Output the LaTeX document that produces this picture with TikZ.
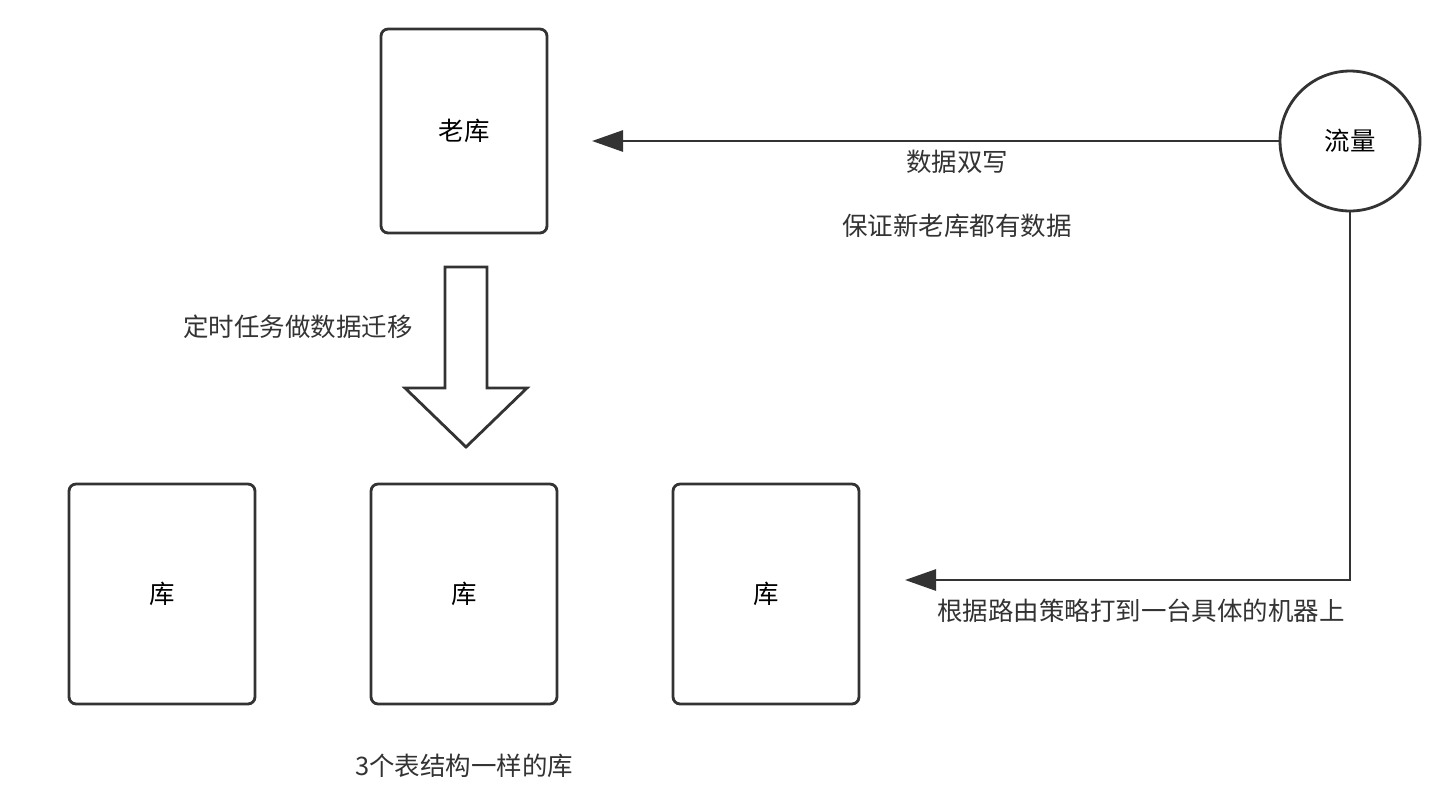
\documentclass[tikz,border=0pt]{standalone}
\usepackage{fontspec}
\newfontfamily\cjk{Noto Sans CJK SC}
\usetikzlibrary{arrows.meta}
\definecolor{ink}{HTML}{333333}
\begin{document}
\begin{tikzpicture}[x=0.02cm,y=-0.02cm,
    font=\cjk\fontsize{14.5}{17}\selectfont,
    dbbox/.style={draw=ink,line width=1.6pt,rounded corners=4pt,
      minimum width=3.72cm,minimum height=4.4cm,inner sep=0pt},
    flow/.style={draw=ink,line width=1.6pt,-{Triangle[length=0.62cm,width=0.42cm]}},
    lbl/.style={text=ink,inner sep=0pt}]
  \useasboundingbox (0,0) rectangle (1454,802);
  % old database and traffic
  \node[dbbox,minimum width=3.32cm,minimum height=4.08cm] (old) at (464,131) {老库};
  \node[draw=ink,line width=1.6pt,circle,minimum size=2.8cm,inner sep=0pt] (traffic) at (1350,141) {流量};
  % three new databases
  \node[dbbox] (db1) at (162,594) {库};
  \node[dbbox] (db2) at (464,594) {库};
  \node[dbbox] (db3) at (766,594) {库};
  % migration arrow
  \draw[ink,line width=1.6pt,line join=miter,fill=white]
    (445,267) -- (487,267) -- (487,388) -- (527,388) -- (466,447)
    -- (405,388) -- (445,388) -- cycle;
  % double write
  \coordinate (oldin) at (592,141);
  \draw[flow] (traffic.west) -- (oldin);
  % routing
  \coordinate (newin) at (905,580);
  \draw[flow] (traffic.south) |- (newin);
  % labels
  \node[lbl] (dw) at (957,162) {数据双写};
  \node[lbl] (both) at (957,226) {保证新老库都有数据};
  \node[lbl] (mig) at (298,327) {定时任务做数据迁移};
  \node[lbl] (same) at (464,766) {3个表结构一样的库};
  \node[lbl] (route) at (1141,611) {根据路由策略打到一台具体的机器上};
\end{tikzpicture}
\end{document}
